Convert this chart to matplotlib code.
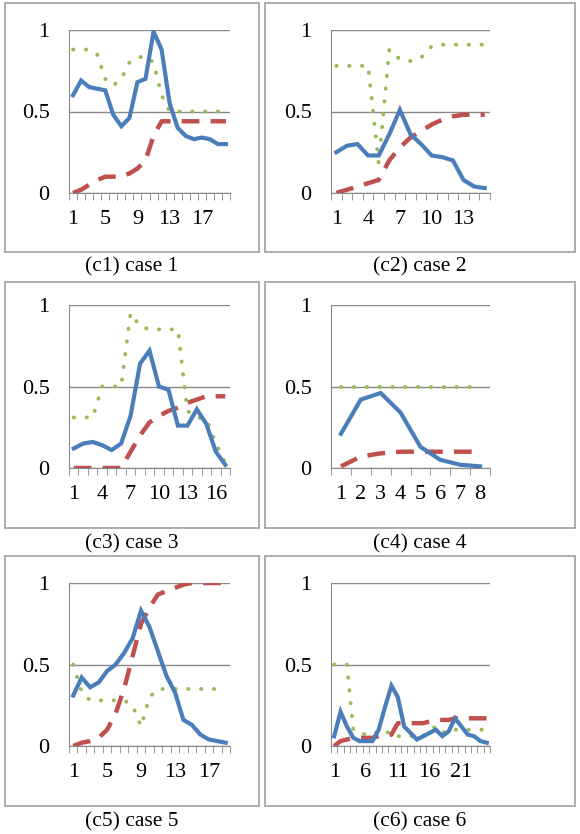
import matplotlib.pyplot as plt
from matplotlib.patches import Rectangle
import numpy as np

plt.rcParams['font.family'] = ['Liberation Serif', 'DejaVu Serif']

BLUE = "#4a7ebb"
RED = "#c0504d"
GREEN = "#9bbb59"

captions = ["(c1) case 1", "(c2) case 2", "(c3) case 3", "(c4) case 4", "(c5) case 5", "(c6) case 6"]
label_step = [4, 3, 3, 1, 4, 5]

blue = [
    [0.60, 0.69, 0.65, 0.64, 0.63, 0.48, 0.41, 0.46, 0.68, 0.70, 0.99, 0.88, 0.55, 0.40, 0.35, 0.33, 0.34, 0.33, 0.30, 0.30],
    [0.25, 0.29, 0.30, 0.23, 0.23, 0.36, 0.51, 0.36, 0.30, 0.23, 0.22, 0.20, 0.08, 0.04, 0.03],
    [0.12, 0.15, 0.16, 0.14, 0.11, 0.15, 0.32, 0.64, 0.72, 0.50, 0.48, 0.26, 0.26, 0.36, 0.27, 0.10, 0.02],
    [0.21, 0.42, 0.46, 0.34, 0.13, 0.05, 0.02, 0.01],
    [0.31, 0.42, 0.36, 0.39, 0.46, 0.50, 0.57, 0.66, 0.83, 0.73, 0.58, 0.43, 0.33, 0.16, 0.13, 0.07, 0.04, 0.03, 0.02],
    [0.06, 0.21, 0.12, 0.05, 0.03, 0.03, 0.03, 0.10, 0.24, 0.37, 0.30, 0.12, 0.08, 0.04, 0.06, 0.08, 0.10, 0.06, 0.09, 0.17, 0.12, 0.07, 0.06, 0.03, 0.02],
]
green = [
    [0.88, 0.88, 0.88, 0.85, 0.70, 0.66, 0.70, 0.80, 0.83, 0.84, 0.80, 0.60, 0.50, 0.50, 0.50, 0.50, 0.50, 0.50, 0.50, 0.50],
    [0.78, 0.78, 0.78, 0.78, 0.18, 0.88, 0.82, 0.81, 0.83, 0.90, 0.91, 0.91, 0.91, 0.91, 0.91],
    [0.31, 0.31, 0.31, 0.50, 0.50, 0.50, 0.95, 0.87, 0.85, 0.85, 0.85, 0.85, 0.35, 0.31, 0.30, 0.15, 0.03],
    [0.50, 0.50, 0.50, 0.50, 0.50, 0.50, 0.50, 0.50],
    [0.50, 0.33, 0.28, 0.28, 0.28, 0.28, 0.28, 0.25, 0.12, 0.30, 0.35, 0.35, 0.35, 0.35, 0.35, 0.35, 0.35, 0.35, 0.35],
    [0.50, 0.50, 0.50, 0.10, 0.08, 0.07, 0.07, 0.09, 0.10, 0.06, 0.06, 0.06, 0.06, 0.06, 0.06, 0.10, 0.12, 0.08, 0.10, 0.10, 0.10, 0.10, 0.10, 0.10, 0.10],
]
red = [
    [0.00, 0.02, 0.05, 0.08, 0.10, 0.10, 0.10, 0.12, 0.15, 0.20, 0.35, 0.44, 0.44, 0.44, 0.44, 0.44, 0.44, 0.44, 0.44, 0.44],
    [0.00, 0.02, 0.04, 0.06, 0.08, 0.20, 0.28, 0.34, 0.38, 0.42, 0.45, 0.47, 0.48, 0.48, 0.48],
    [0.00, 0.00, 0.00, 0.00, 0.00, 0.00, 0.10, 0.20, 0.28, 0.32, 0.35, 0.37, 0.40, 0.42, 0.44, 0.44, 0.44],
    [0.01, 0.07, 0.09, 0.10, 0.10, 0.10, 0.10, 0.10],
    [0.00, 0.02, 0.03, 0.05, 0.10, 0.20, 0.35, 0.55, 0.75, 0.85, 0.93, 0.95, 0.97, 0.99, 1.00, 1.00, 1.00, 1.00, 1.00],
    [0.00, 0.03, 0.04, 0.05, 0.05, 0.05, 0.05, 0.06, 0.06, 0.07, 0.14, 0.14, 0.14, 0.14, 0.14, 0.15, 0.16, 0.16, 0.16, 0.17, 0.17, 0.17, 0.17, 0.17, 0.17],
]

W, H = 580, 834
fig = plt.figure(figsize=(W / 100, H / 100), dpi=100)

boxes_x = [(5, 259), (265, 575)]
boxes_y = [(3, 252), (282, 528), (556, 806)]
axes_x = [(69, 230), (331, 490)]
axes_y = [(30, 193), (305, 468), (583, 746)]
caption_y = [267, 544, 822]

for i in range(6):
    r, c = divmod(i, 2)
    bx0, bx1 = boxes_x[c]
    by0, by1 = boxes_y[r]
    fig.patches.append(Rectangle((bx0 / W, 1 - by1 / H), (bx1 - bx0) / W, (by1 - by0) / H,
                                 transform=fig.transFigure, fill=False, ec="#a0a0a0", lw=1.2))
    ax0, ax1 = axes_x[c]
    ay0, ay1 = axes_y[r]
    ax = fig.add_axes([ax0 / W, 1 - ay1 / H, (ax1 - ax0) / W, (ay1 - ay0) / H])
    n = len(blue[i])
    x = np.arange(1, n + 1)
    ax.plot(x, blue[i], color=BLUE, lw=3, solid_joinstyle="miter", zorder=3)
    ax.plot(x, red[i], color=RED, lw=3.2, dashes=(4, 2.5), zorder=2)
    ax.plot(x, green[i], color=GREEN, lw=2.8, linestyle=(0, (0.1, 3.2)), dash_capstyle="round", zorder=2)
    ax.set_xlim(0.5, n + 0.5)
    ax.set_ylim(0, 1)
    ax.set_yticks([0, 0.5, 1])
    ax.set_yticklabels(["0", "0.5", "1"])
    ax.yaxis.grid(True, color="#888888", lw=1)
    ax.set_axisbelow(True)
    ax.set_xticks(np.arange(1, n + 1, label_step[i]))
    ax.set_xticks(np.arange(0.5, n + 1, 1), minor=True)
    ax.tick_params(axis="x", which="major", length=0, pad=12, labelsize=16)
    ax.tick_params(axis="x", which="minor", length=5, color="#888888")
    ax.tick_params(axis="y", length=0, pad=14, labelsize=16)
    for s in ["top", "right"]:
        ax.spines[s].set_visible(False)
    for s in ["left", "bottom"]:
        ax.spines[s].set_color("#888888")
    fig.text((bx0 + bx1) / 2 / W, 1 - caption_y[r] / H, captions[i], ha="center", va="center", fontsize=15.5)

fig.savefig("out.png", dpi=100)
